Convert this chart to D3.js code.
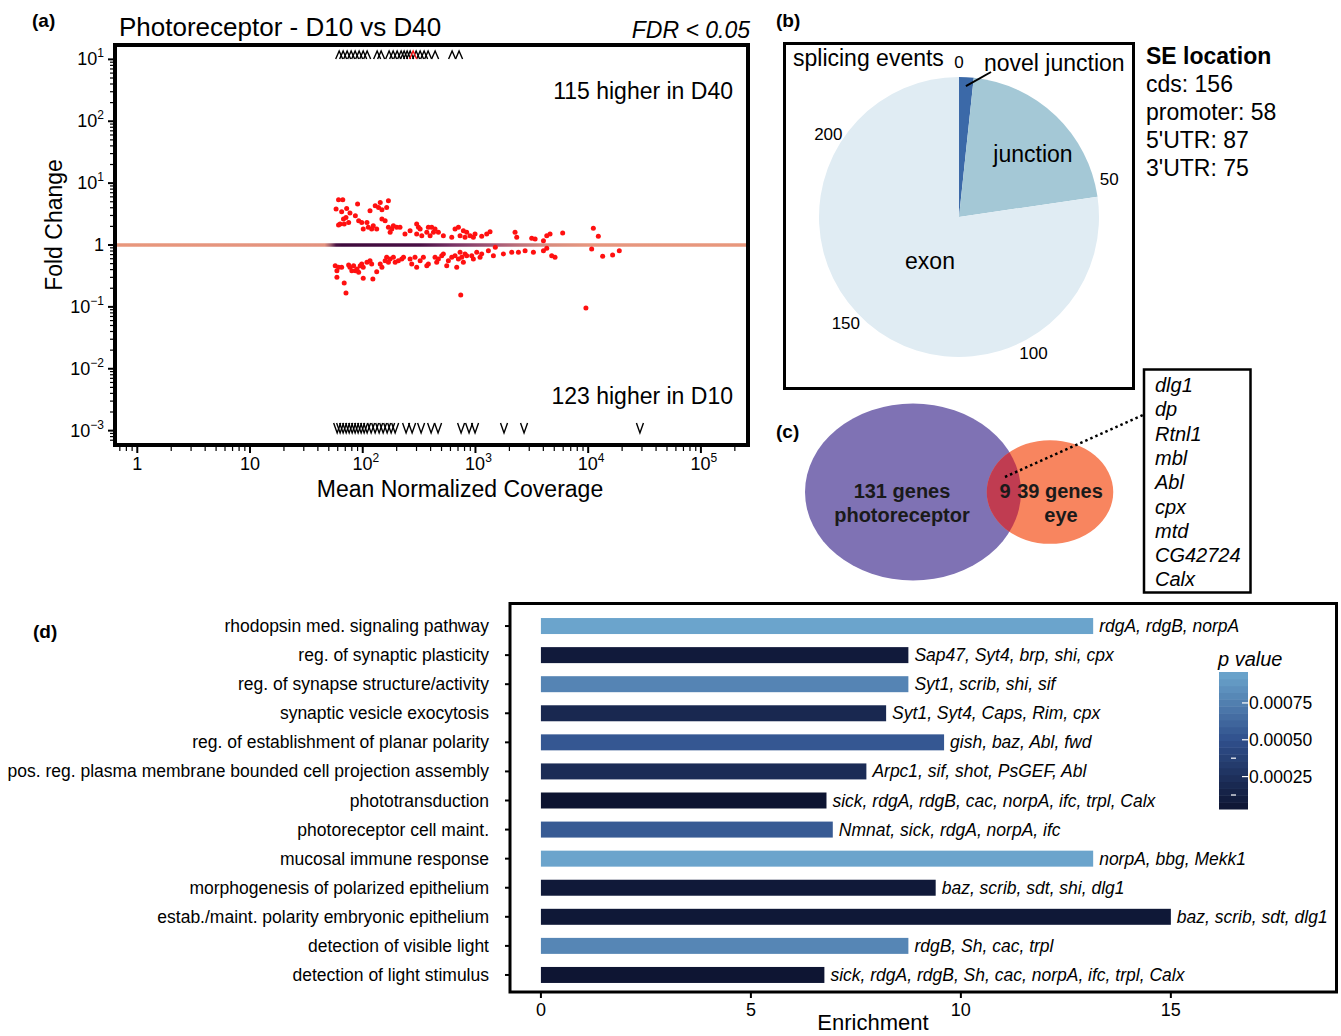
<!DOCTYPE html>
<html>
<head>
<meta charset="utf-8">
<script src="https://cdn.jsdelivr.net/npm/d3@7"></script>
<style>
  body { margin: 0; background: #fff; }
  svg { display: block; font-family: "Liberation Sans", Arial, sans-serif; }
</style>
</head>
<body>
<svg id="fig" width="1341" height="1036"></svg>
<script>
// ---------------- (a) MA plot: splicing events, D10 vs D40 ----------------
// [mean normalized coverage, fold change]
const maUp = [[58,3.81],[61,5.39],[66.5,5.39],[65,3.45],[72,3.9],[77,3.28],[71,2.79],[67.5,2.63],[63,2.18],[61,2.1],[68.5,2.18],[75,2.32],[86,2.97],[90,4.59],[92,2.47],[98,2.32],[101,1.81],[109,2.32],[112,1.93],[116,3.58],[120,1.81],[129,4.31],[124,2.05],[133,1.81],[138,4.05],[143,4.88],[148,3.71],[148,2.63],[158,2.47],[163,4.05],[169,5.19],[169,1.93],[175,1.6],[181,1.81],[187,2.05],[200,1.93],[214,1.93],[237,1.5],[263,1.7],[301,2.18],[312,1.93],[301,1.5],[323,1.81],[334,1.41],[370,1.6],[382,1.93],[409,1.93],[396,1.41],[424,1.6],[438,1.81],[469,1.6],[519,1.41],[616,1.33],[659,1.81],[706,1.93],[730,1.41],[781,1.7],[836,1.6],[808,1.33],[895,1.41],[958,1.33],[991,1.5],[1136,1.38],[1258,1.5],[1347,1.64],[2245,1.6],[2323,1.33],[3156,1.28],[3381,1.25],[4009,1.17],[4290,1.41],[4588,1.5],[5940,1.56],[11110,1.86],[12300,1.38]];
const maDown = [[57,0.464],[59,0.385],[59,0.301],[61,0.436],[65,0.436],[68.5,0.244],[71,0.168],[75,0.476],[77,0.436],[83,0.464],[80,0.385],[86,0.385],[89,0.41],[92,0.362],[95,0.464],[98,0.494],[101,0.29],[101,0.436],[109,0.525],[116,0.559],[120,0.494],[123,0.283],[133,0.371],[143,0.494],[148,0.436],[158,0.559],[163,0.633],[169,0.525],[175,0.595],[187,0.633],[194,0.525],[207,0.559],[222,0.595],[230,0.633],[263,0.595],[272,0.494],[291,0.633],[301,0.436],[323,0.559],[345,0.633],[370,0.464],[382,0.494],[438,0.633],[453,0.525],[469,0.595],[502,0.673],[519,0.716],[556,0.464],[575,0.559],[616,0.633],[659,0.673],[682,0.436],[706,0.595],[730,0.761],[755,0.633],[781,0.525],[808,0.716],[836,0.673],[926,0.673],[958,0.595],[1026,0.761],[1098,0.633],[1136,0.716],[1302,0.81],[1442,0.673],[1500,0.917],[1769,0.716],[2098,0.761],[2405,0.761],[2755,0.81],[3266,0.761],[4009,0.81],[4290,0.884],[4745,0.673],[5080,0.633],[10740,0.862],[13440,0.657],[16470,0.69],[18880,0.81],[740,0.156],[9550,0.096]];
// events beyond the fold-change axis (coverage only)
const offscaleHigh = [61.8,67,72.7,78.9,85.6,92.9,100.9,109.4,134.2,145.6,171.4,186.1,201.9,219,232.9,247.6,263.3,297.6,322.9,350.4,380.2,438.6,620.5,715.5];
const offscaleHighFlagged = [279.9];
const offscaleLow = [59.3,63,67,71.3,75.8,80.6,85.6,91,96.8,102.9,109.4,118.7,128.8,139.8,151.7,164.6,178.6,193.8,242.4,274.2,329.4,404.1,465.8,745.5,877.4,991.6,1792,2698,28780];
// density colouring of non-significant events along fold change = 1
const densityStops = [[0.66,"#e8977c"],[46,"#e3927f"],[52,"#9a5a6a"],[58,"#4a1244"],[65,"#3e0a3c"],[320,"#4a1045"],[640,"#7a3465"],[1560,"#a85b76"],[4100,"#d68b7e"],[10000,"#e6967f"],[250000,"#e8977c"]];
const xTicksA = [1,10,100,1e3,1e4,1e5];
const xTickTextA = [["1",""],["10",""],["10","2"],["10","3"],["10","4"],["10","5"]];
const yTicksA = [1e3,1e2,1e1,1,1e-1,1e-2,1e-3];
const yTickTextA = [["10","1"],["10","2"],["10","1"],["1",""],["10","\u22121"],["10","\u22122"],["10","\u22123"]];
const countHigherD40 = 115, countHigherD10 = 123;

// ---------------- (b) splicing event types ----------------
const spliceTypes = ["novel junction","junction","exon"];
const spliceCounts = [4, 50, 184];
const spliceColors = ["#3b69a8","#a4c8d6","#e0ecf3"];
const pieTicks = [0,50,100,150,200];
const seLocations = ["cds","promoter","5'UTR","3'UTR"];
const seCounts = [156,58,87,75];

// ---------------- (c) overlap with eye genes ----------------
const vennSets = ["photoreceptor","eye"];
const vennUnique = [131, 39];
const vennShared = 9;
const sharedGenes = ["dlg1","dp","Rtnl1","mbl","Abl","cpx","mtd","CG42724","Calx"];

// ---------------- (d) GO enrichment ----------------
const goTerms = ["rhodopsin med. signaling pathway","reg. of synaptic plasticity","reg. of synapse structure/activity","synaptic vesicle exocytosis","reg. of establishment of planar polarity","pos. reg. plasma membrane bounded cell projection assembly","phototransduction","photoreceptor cell maint.","mucosal immune response","morphogenesis of polarized epithelium","estab./maint. polarity embryonic epithelium","detection of visible light","detection of light stimulus"];
const goEnrichment = [13.15,8.75,8.75,8.22,9.6,7.75,6.8,6.95,13.15,9.4,15.0,8.75,6.75];
const goPValues = [0.00095,0.00008,0.00078,0.00019,0.00054,0.00022,0.00003,0.00056,0.00095,0.00007,0.00006,0.00079,0.00004];
const goGenes = ["rdgA, rdgB, norpA","Sap47, Syt4, brp, shi, cpx","Syt1, scrib, shi, sif","Syt1, Syt4, Caps, Rim, cpx","gish, baz, Abl, fwd","Arpc1, sif, shot, PsGEF, Abl","sick, rdgA, rdgB, cac, norpA, ifc, trpl, Calx","Nmnat, sick, rdgA, norpA, ifc","norpA, bbg, Mekk1","baz, scrib, sdt, shi, dlg1","baz, scrib, sdt, dlg1","rdgB, Sh, cac, trpl","sick, rdgA, rdgB, Sh, cac, norpA, ifc, trpl, Calx"];
const xTicksD = [0,5,10,15];
const pLegendTicks = [0.00025,0.0005,0.00075];
const pLegendTickText = ["0.00025","0.00050","0.00075"];

const svg = d3.select("#fig");
const defs = svg.append("defs");

function panelTag(x, y, t) {
  svg.append("text").attr("x", x).attr("y", y).attr("font-size", 19)
    .attr("font-weight", "bold").text(t);
}
function powText(sel, pair, supSize) {
  sel.text(pair[0]);
  if (pair[1]) sel.append("tspan").attr("dy", -8).attr("font-size", supSize).text(pair[1]);
}

// ======================= (a) =======================
panelTag(32, 27, "(a)");
svg.append("text").attr("x", 119).attr("y", 36).attr("font-size", 26).text("Photoreceptor - D10 vs D40");
svg.append("text").attr("x", 750).attr("y", 38).attr("font-size", 23).attr("font-style", "italic")
  .attr("text-anchor", "end").text("FDR < 0.05");

const xA = d3.scaleLog().domain([10 ** -0.18, 10 ** 5.4]).range([117, 746]);
const yA = d3.scaleLog().domain([10 ** -3.2, 10 ** 3.2]).range([443, 47]);

const grad = defs.append("linearGradient").attr("id", "densityLine")
  .attr("gradientUnits", "userSpaceOnUse")
  .attr("x1", xA.range()[0]).attr("x2", xA.range()[1]).attr("y1", 0).attr("y2", 0);
const xSpan = xA.range()[1] - xA.range()[0];
densityStops.forEach(([c, col]) => {
  grad.append("stop").attr("offset", Math.max(0, Math.min(1, (xA(c) - xA.range()[0]) / xSpan)))
    .attr("stop-color", col);
});
const gA = svg.append("g");
gA.append("line").attr("x1", xA.range()[0]).attr("x2", xA.range()[1])
  .attr("y1", yA(1)).attr("y2", yA(1)).attr("stroke", "url(#densityLine)").attr("stroke-width", 3.5);

gA.selectAll("circle.sig").data(maUp.concat(maDown)).join("circle")
  .attr("class", "sig").attr("cx", d => xA(d[0])).attr("cy", d => yA(d[1]))
  .attr("r", 2.5).attr("fill", "#ff1010");

const yTop = yA.range()[1] + 8, yBot = yA.range()[0] - 15;
gA.selectAll("path.hi").data(offscaleHigh.concat(offscaleHighFlagged)).join("path")
  .attr("class", "hi")
  .attr("d", d => `M${xA(d) - 3.5},${yTop + 4}L${xA(d)},${yTop - 4}L${xA(d) + 3.5},${yTop + 4}`)
  .attr("fill", "none").attr("stroke", d => offscaleHighFlagged.includes(d) ? "#ff1010" : "#000")
  .attr("stroke-width", 1.4);
gA.selectAll("path.lo").data(offscaleLow).join("path")
  .attr("class", "lo")
  .attr("d", d => `M${xA(d) - 3.5},${yBot - 5}L${xA(d)},${yBot + 5}L${xA(d) + 3.5},${yBot - 5}`)
  .attr("fill", "none").attr("stroke", "#000").attr("stroke-width", 1.4);

gA.append("text").attr("x", 733).attr("y", 99).attr("font-size", 23).attr("text-anchor", "end")
  .text(`${countHigherD40} higher in D40`);
gA.append("text").attr("x", 733).attr("y", 404).attr("font-size", 23).attr("text-anchor", "end")
  .text(`${countHigherD10} higher in D10`);

// axes: major and minor log ticks
const frameL = 115, frameB = 445;
function minors(scale) {
  const [a, b] = scale.domain();
  const out = [];
  for (let k = -5; k <= 6; k++) for (let m = 2; m <= 9; m++) {
    const v = m * 10 ** k;
    if (v > a && v < b) out.push(v);
  }
  return out;
}
gA.selectAll("line.ymin").data(minors(yA)).join("line")
  .attr("x1", frameL - 5).attr("x2", frameL).attr("y1", d => yA(d)).attr("y2", d => yA(d))
  .attr("stroke", "#000").attr("stroke-width", 1.2);
gA.selectAll("line.yMaj").data(yTicksA).join("line")
  .attr("x1", frameL - 7).attr("x2", frameL).attr("y1", d => yA(d)).attr("y2", d => yA(d))
  .attr("stroke", "#000").attr("stroke-width", 2);
gA.selectAll("line.xmin").data(minors(xA)).join("line")
  .attr("x1", d => xA(d)).attr("x2", d => xA(d)).attr("y1", frameB).attr("y2", frameB + 6)
  .attr("stroke", "#000").attr("stroke-width", 1.2);
gA.selectAll("line.xMaj").data(xTicksA).join("line")
  .attr("x1", d => xA(d)).attr("x2", d => xA(d)).attr("y1", frameB).attr("y2", frameB + 8)
  .attr("stroke", "#000").attr("stroke-width", 2);

yTicksA.forEach((v, i) => {
  const t = gA.append("text").attr("x", 104).attr("y", yA(v) + 6).attr("font-size", 18)
    .attr("text-anchor", "end");
  powText(t, yTickTextA[i], 12);
});
xTicksA.forEach((v, i) => {
  const t = gA.append("text").attr("x", xA(v) + (xTickTextA[i][1] ? 3 : 0)).attr("y", 470)
    .attr("font-size", 18).attr("text-anchor", "middle");
  powText(t, xTickTextA[i], 12);
});
gA.append("text").attr("x", 460).attr("y", 497).attr("font-size", 23).attr("text-anchor", "middle")
  .text("Mean Normalized Coverage");
gA.append("text").attr("transform", "translate(62,225) rotate(-90)").attr("font-size", 23)
  .attr("text-anchor", "middle").text("Fold Change");

gA.append("rect").attr("x", frameL).attr("y", 45).attr("width", 633).attr("height", 400)
  .attr("fill", "none").attr("stroke", "#000").attr("stroke-width", 4);

// ======================= (b) =======================
panelTag(776, 27, "(b)");
svg.append("rect").attr("x", 784.5).attr("y", 43.5).attr("width", 349).attr("height", 345)
  .attr("fill", "none").attr("stroke", "#000").attr("stroke-width", 3);
const pieC = [959, 217], pieR = 140;
const total = d3.sum(spliceCounts);
const arcs = d3.pie().sort(null).value(d => d)(spliceCounts);
const gB = svg.append("g").attr("transform", `translate(${pieC})`);
gB.selectAll("path").data(arcs).join("path")
  .attr("d", d3.arc().innerRadius(0).outerRadius(pieR))
  .attr("fill", (d, i) => spliceColors[i]);
const angle = d3.scaleLinear().domain([0, total]).range([0, 2 * Math.PI]);
gB.selectAll("text.tk").data(pieTicks).join("text")
  .attr("class", "tk")
  .attr("x", d => 155 * Math.sin(angle(d)))
  .attr("y", d => -155 * Math.cos(angle(d)) + 6)
  .attr("text-anchor", "middle").attr("font-size", 17).text(d => d);
// leader for the thin slice
const novelMid = (arcs[0].startAngle + arcs[0].endAngle) / 2;
gB.append("line")
  .attr("x1", 131 * Math.sin(novelMid)).attr("y1", -131 * Math.cos(novelMid))
  .attr("x2", 32).attr("y2", -145).attr("stroke", "#000").attr("stroke-width", 2);
svg.append("text").attr("x", 984).attr("y", 71).attr("font-size", 23).text(spliceTypes[0]);
svg.append("text").attr("x", 1033).attr("y", 162).attr("font-size", 23).attr("text-anchor", "middle").text(spliceTypes[1]);
svg.append("text").attr("x", 930).attr("y", 269).attr("font-size", 23).attr("text-anchor", "middle").text(spliceTypes[2]);
svg.append("text").attr("x", 793).attr("y", 66).attr("font-size", 23).text("splicing events");

svg.append("text").attr("x", 1146).attr("y", 64).attr("font-size", 23).attr("font-weight", "bold").text("SE location");
seLocations.forEach((s, i) => {
  svg.append("text").attr("x", 1146).attr("y", 92 + 28 * i).attr("font-size", 23).text(`${s}: ${seCounts[i]}`);
});

// ======================= (c) =======================
panelTag(776, 438, "(c)");
const vennRef = vennUnique[0] + vennShared;
const ellR = n => Math.sqrt(n / vennRef);
const ellA = { cx: 913, cy: 492, rx: 108 * ellR(vennUnique[0] + vennShared), ry: 88.5 * ellR(vennUnique[0] + vennShared) };
const ellB = { cx: 1050, cy: 492, rx: 108 * ellR(vennUnique[1] + vennShared), ry: 88.5 * ellR(vennUnique[1] + vennShared) };
const gC = svg.append("g");
defs.append("clipPath").attr("id", "eyeClip").append("ellipse")
  .attr("cx", ellB.cx).attr("cy", ellB.cy).attr("rx", ellB.rx).attr("ry", ellB.ry);
gC.append("ellipse").attr("cx", ellA.cx).attr("cy", ellA.cy).attr("rx", ellA.rx).attr("ry", ellA.ry).attr("fill", "#7f72b4");
gC.append("ellipse").attr("cx", ellB.cx).attr("cy", ellB.cy).attr("rx", ellB.rx).attr("ry", ellB.ry).attr("fill", "#f8855f");
gC.append("ellipse").attr("clip-path", "url(#eyeClip)")
  .attr("cx", ellA.cx).attr("cy", ellA.cy).attr("rx", ellA.rx).attr("ry", ellA.ry).attr("fill", "#c03c51");
const vt = (x, y, t) => gC.append("text").attr("x", x).attr("y", y).attr("font-size", 20)
  .attr("font-weight", "bold").attr("text-anchor", "middle").attr("fill", "#1a1a1a").text(t);
vt(902, 498, `${vennUnique[0]} genes`);
vt(902, 522, vennSets[0]);
vt(1005, 498, `${vennShared}`);
vt(1060, 498, `${vennUnique[1]} genes`);
vt(1061, 522, vennSets[1]);
gC.append("line").attr("x1", 1005).attr("y1", 477).attr("x2", 1143).attr("y2", 415)
  .attr("stroke", "#000").attr("stroke-width", 2.5).attr("stroke-dasharray", "2.5,3");
gC.append("rect").attr("x", 1144).attr("y", 369.5).attr("width", 106.5).attr("height", 223)
  .attr("fill", "#fff").attr("stroke", "#000").attr("stroke-width", 2.5);
sharedGenes.forEach((g, i) => {
  gC.append("text").attr("x", 1155).attr("y", 392 + 24.3 * i).attr("font-size", 20)
    .attr("font-style", "italic").text(g);
});

// ======================= (d) =======================
panelTag(33, 638, "(d)");
const xD = d3.scaleLinear().domain([-0.76, 18.98]).range([509, 1338]);
const yD = d3.scaleBand().domain(goTerms).range([611.5, 989.5]).paddingInner(0.45).paddingOuter(0.225);
const pCol = d3.scaleLinear().domain([0.00003, 0.0005, 0.00096]).range(["#0d1431", "#30508c", "#6ca6cd"]);
const gD = svg.append("g");
gD.selectAll("rect.bar").data(goTerms).join("rect").attr("class", "bar")
  .attr("x", xD(0)).attr("y", d => yD(d))
  .attr("width", (d, i) => xD(goEnrichment[i]) - xD(0)).attr("height", yD.bandwidth())
  .attr("fill", (d, i) => pCol(goPValues[i]));
gD.selectAll("text.genes").data(goTerms).join("text").attr("class", "genes")
  .attr("x", (d, i) => xD(goEnrichment[i]) + 6)
  .attr("y", d => yD(d) + yD.bandwidth() / 2 + 6)
  .attr("font-size", 17.5).attr("font-style", "italic").text((d, i) => goGenes[i]);
gD.selectAll("text.term").data(goTerms).join("text").attr("class", "term")
  .attr("x", 489).attr("y", d => yD(d) + yD.bandwidth() / 2 + 6)
  .attr("font-size", 17.5).attr("text-anchor", "end").text(d => d);
gD.selectAll("line.ytk").data(goTerms).join("line")
  .attr("x1", 505).attr("x2", 510)
  .attr("y1", d => yD(d) + yD.bandwidth() / 2).attr("y2", d => yD(d) + yD.bandwidth() / 2)
  .attr("stroke", "#000").attr("stroke-width", 2);
gD.selectAll("line.xtk").data(xTicksD).join("line")
  .attr("x1", d => xD(d)).attr("x2", d => xD(d)).attr("y1", 993).attr("y2", 998)
  .attr("stroke", "#000").attr("stroke-width", 2);
gD.selectAll("text.xtk").data(xTicksD).join("text")
  .attr("x", d => xD(d)).attr("y", 1016).attr("font-size", 18).attr("text-anchor", "middle").text(d => d);
gD.append("text").attr("x", 873).attr("y", 1030).attr("font-size", 22).attr("text-anchor", "middle").text("Enrichment");
gD.append("rect").attr("x", 510).attr("y", 603.5).attr("width", 826.5).attr("height", 388.5)
  .attr("fill", "none").attr("stroke", "#000").attr("stroke-width", 3);

// colour bar for p value
const legY = d3.scaleLinear().domain([0.00003, 0.00096]).range([809, 672]);
const nBins = 20;
const binEdges = d3.range(nBins + 1).map(i => 0.00003 + i * (0.00096 - 0.00003) / nBins);
gD.selectAll("rect.bin").data(d3.range(nBins)).join("rect").attr("class", "bin")
  .attr("x", 1219).attr("width", 29)
  .attr("y", i => legY(binEdges[i + 1]))
  .attr("height", i => legY(binEdges[i]) - legY(binEdges[i + 1]) + 0.5)
  .attr("fill", i => pCol((binEdges[i] + binEdges[i + 1]) / 2));
gD.selectAll("line.ltk").data(pLegendTicks).join("line")
  .attr("x1", 1242).attr("x2", 1248).attr("y1", d => legY(d)).attr("y2", d => legY(d))
  .attr("stroke", "#fff").attr("stroke-width", 1.2);
gD.selectAll("line.ltk2").data([0.000125, 0.000375]).join("line")
  .attr("x1", 1231).attr("x2", 1236).attr("y1", d => legY(d)).attr("y2", d => legY(d))
  .attr("stroke", "#fff").attr("stroke-width", 1.2);
gD.selectAll("text.ltk").data(pLegendTicks).join("text")
  .attr("x", 1249).attr("y", d => legY(d) + 6).attr("font-size", 17.5).text((d, i) => pLegendTickText[i]);
gD.append("text").attr("x", 1218).attr("y", 666).attr("font-size", 20).attr("font-style", "italic").text("p value");
</script>
</body>
</html>
